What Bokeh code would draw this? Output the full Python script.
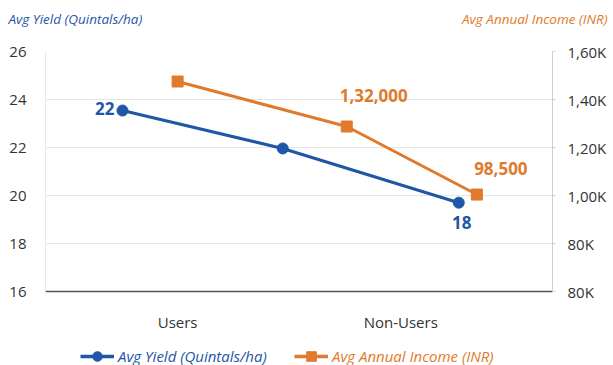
from bokeh.plotting import figure
from bokeh.layouts import column, row
from bokeh.models import Range1d, LinearAxis, Label, Legend, LegendItem, FixedTicker
from bokeh.core.properties import value
from bokeh.embed import file_html
from bokeh.resources import INLINE

# ---- data ----
categories = ["Users", "Non-Users"]
category_pos = [1, 2]
yield_x = [0.753, 1.471, 2.260]
yield_vals = [23.54, 21.96, 19.7]
yield_labels = ["22", "", "18"]
income_x = [1.0, 1.758, 2.341]
income_vals = [147500, 128750, 100400]
income_labels = ["", "1,32,000", "98,500"]
left_ticks = [16, 18, 20, 22, 24, 26]
right_ticks = [60000, 80000, 100000, 120000, 140000, 160000]
right_tick_labels = ["80K", "80K", "1,00K", "1,20K", "1,40K", "1,60K"]
yield_title = "Avg Yield (Quintals/ha)"
income_title = "Avg Annual Income (INR)"

BLUE = "#1f56a6"
ORANGE = "#e07a2c"
FONT = "Open Sans"
W = 613

def blank(h):
    f = figure(width=W, height=h, output_backend="svg", toolbar_location=None,
               x_range=Range1d(0, W), y_range=Range1d(0, h),
               x_axis_location=None, y_axis_location=None,
               min_border=0, outline_line_color=None)
    f.grid.visible = False
    return f

# ---- header with axis titles ----
head = blank(30)
head.add_layout(Label(x=8, y=12, text=yield_title, text_color=BLUE, text_font=FONT,
                      text_font_style="italic", text_font_size="13.5px",
                      text_baseline="middle", text_align="left"))
head.add_layout(Label(x=607, y=12, text=income_title, text_color=ORANGE, text_font=FONT,
                      text_font_style="italic", text_font_size="13.5px",
                      text_baseline="middle", text_align="right"))

# ---- main chart ----
p = figure(width=W, height=305, output_backend="svg", toolbar_location=None,
           x_range=Range1d(0.408, 2.68), y_range=Range1d(16, 26),
           min_border_left=45, min_border_right=61, min_border_top=21, min_border_bottom=44)
p.outline_line_color = None
p.extra_y_ranges = {"income": Range1d(60000, 160000)}

p.yaxis.ticker = FixedTicker(ticks=left_ticks)
p.yaxis.axis_line_color = "#e8e8e8"
p.yaxis.major_tick_line_color = None
p.yaxis.minor_tick_line_color = None
p.yaxis.major_label_text_font = FONT
p.yaxis.major_label_text_font_size = "15px"
p.yaxis.major_label_text_color = "#333333"
p.yaxis.major_label_standoff = 13

ra = LinearAxis(y_range_name="income", ticker=FixedTicker(ticks=right_ticks))
ra.major_label_overrides = {t: l for t, l in zip(right_ticks, right_tick_labels)}
ra.axis_line_color = "#cfcfcf"
ra.major_tick_line_color = "#cfcfcf"
ra.major_tick_in = 0
ra.major_tick_out = 3
ra.minor_tick_line_color = None
ra.major_label_text_font = FONT
ra.major_label_text_font_size = "15px"
ra.major_label_text_color = "#333333"
ra.major_label_standoff = 12
p.add_layout(ra, "right")

p.xaxis.ticker = FixedTicker(ticks=category_pos)
p.xaxis.major_label_overrides = {c: n for c, n in zip(category_pos, categories)}
p.xaxis.axis_line_color = "#555555"
p.xaxis.axis_line_width = 1.5
p.xaxis.major_tick_line_color = None
p.xaxis.minor_tick_line_color = None
p.xaxis.major_label_text_font = FONT
p.xaxis.major_label_text_font_size = "15px"
p.xaxis.major_label_text_color = "#333333"
p.xaxis.major_label_standoff = 14

p.xgrid.grid_line_color = None
p.ygrid.grid_line_color = "#e6e6e6"
p.ygrid.ticker = FixedTicker(ticks=left_ticks)

p.line(yield_x, yield_vals, line_color=BLUE, line_width=3)
p.scatter(yield_x, yield_vals, marker="circle", size=11, fill_color=BLUE, line_color=BLUE)
p.line(income_x, income_vals, line_color=ORANGE, line_width=3, y_range_name="income")
p.scatter(income_x, income_vals, marker="square", size=11, fill_color=ORANGE, line_color=ORANGE,
          y_range_name="income")

def dlabel(x, y, txt, color, align, xo, yo, rng="default"):
    p.text([x], [y], text=[txt], text_color=color, text_font=value(FONT), text_font_style="bold",
           text_font_size="17px", text_align=align, text_baseline="middle",
           x_offset=xo, y_offset=yo, y_range_name=rng)

dlabel(yield_x[0], yield_vals[0], yield_labels[0], BLUE, "right", -8, -2)
dlabel(yield_x[2], yield_vals[2], yield_labels[2], BLUE, "center", 3, 20)
dlabel(income_x[1], income_vals[1], income_labels[1], ORANGE, "center", 27, -31, "income")
dlabel(income_x[2], income_vals[2], income_labels[2], ORANGE, "center", 24, -26, "income")

# ---- footer with legend (proxy renderers kept off-canvas) ----
foot = blank(30)
off = [-1000]
fbl = foot.line(off, off, line_color=BLUE, line_width=3.5)
fbc = foot.scatter(off, off, marker="circle", size=11, fill_color=BLUE, line_color=BLUE)
fol = foot.line(off, off, line_color=ORANGE, line_width=3.5)
fos = foot.scatter(off, off, marker="square", size=11, fill_color=ORANGE, line_color=ORANGE)

def mk_legend(label, rends, color, loc):
    lg = Legend(items=[LegendItem(label=label, renderers=rends)], location=loc,
                orientation="horizontal", padding=0, margin=0, border_line_color=None,
                background_fill_alpha=0, glyph_width=34, glyph_height=24, label_standoff=4,
                label_text_font=FONT, label_text_font_style="italic", label_text_font_size="15px",
                label_text_color=color, label_height=24)
    foot.add_layout(lg, "center")

mk_legend(yield_title, [fbl, fbc], BLUE, (80, -3))
mk_legend(income_title, [fol, fos], ORANGE, (294, -3))

layout = column(row(head), p, row(foot), spacing=0)
open("out.html", "w").write(file_html(layout, INLINE))
